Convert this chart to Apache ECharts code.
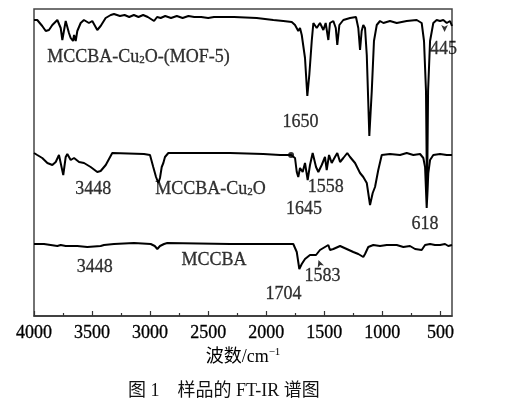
<!DOCTYPE html>
<html>
<head>
<meta charset="utf-8">
<script src="https://cdn.jsdelivr.net/npm/echarts@6/dist/echarts.min.js"></script>
<style>
  html, body { margin: 0; padding: 0; background: #fff; }
  #chart { width: 513px; height: 401px; }
</style>
</head>
<body>
<div id="chart"></div>
<script>
// wavenumber ticks (cm-1)
const majorTicks = [500, 1000, 1500, 2000, 2500, 3000, 3500, 4000]
const minorTicks = [750, 1250, 1750, 2250, 2750, 3250, 3750]

// [wavenumber, transmittance (arb. units, traces stacked)]
const mofSpectrum = [
  [4000, 296], [3972, 296], [3929, 290], [3899, 285], [3871, 286], [3842, 291], [3799, 296],
  [3770, 288], [3756, 276], [3727, 295], [3713, 296], [3699, 283], [3684, 278], [3664, 275],
  [3655, 281], [3641, 275], [3627, 285], [3598, 293], [3570, 296], [3527, 293], [3498, 295],
  [3455, 286], [3426, 290], [3383, 298], [3339, 301], [3311, 302], [3260, 300], [3220, 301],
  [3180, 299], [3140, 301], [3100, 299], [3060, 301], [3020, 299], [2966, 295], [2940, 299],
  [2909, 298], [2870, 300], [2820, 298], [2770, 300], [2720, 298], [2670, 300], [2620, 299],
  [2560, 299], [2500, 298], [2450, 299], [2400, 299], [2277, 299], [2082, 298], [1939, 296],
  [1853, 295], [1780, 294], [1752, 291], [1724, 285], [1709, 288], [1694, 281], [1666, 258],
  [1646, 220], [1629, 241], [1608, 275], [1594, 293], [1565, 288], [1537, 293], [1508, 286],
  [1488, 293], [1465, 276], [1451, 293], [1422, 295], [1401, 288], [1388, 271], [1370, 291],
  [1336, 296], [1278, 298], [1227, 299], [1207, 288], [1192, 266], [1178, 285], [1164, 291],
  [1149, 288], [1134, 261], [1112, 180], [1091, 225], [1072, 275], [1048, 291], [1020, 295],
  [991, 293], [934, 295], [876, 293], [790, 295], [704, 296], [661, 293], [641, 275],
  [624, 225], [615, 116], [606, 225], [589, 275], [561, 293], [532, 296], [503, 295],
  [475, 296], [445, 293], [417, 295], [400, 290]
]

const cu2oSpectrum = [
  [4000, 163], [3972, 161], [3929, 158], [3885, 153], [3842, 151], [3813, 154], [3785, 161],
  [3770, 163], [3748, 141], [3727, 159], [3713, 162], [3684, 156], [3655, 158], [3612, 154],
  [3569, 153], [3512, 149], [3455, 144], [3426, 145], [3382, 151], [3326, 163], [3053, 162],
  [3001, 161], [2973, 149], [2949, 139], [2929, 133], [2915, 138], [2900, 149], [2886, 153],
  [2872, 159], [2843, 163], [2312, 163], [2025, 162], [1881, 161], [1810, 161], [1786, 161],
  [1752, 158], [1737, 144], [1724, 139], [1709, 148], [1686, 144], [1666, 153], [1643, 136],
  [1623, 151], [1600, 163], [1571, 149], [1551, 144], [1522, 151], [1494, 159], [1479, 146],
  [1459, 161], [1436, 153], [1408, 159], [1388, 163], [1364, 154], [1336, 158], [1302, 163],
  [1278, 159], [1235, 153], [1192, 143], [1164, 139], [1134, 133], [1106, 111], [1083, 123],
  [1063, 129], [1035, 146], [1005, 161], [934, 162], [848, 161], [790, 163], [733, 161],
  [675, 162], [647, 158], [632, 149], [618, 108], [604, 143], [589, 156], [561, 161],
  [503, 162], [445, 161], [400, 161]
]

const mccbaSpectrum = [
  [4000, 72], [3914, 72], [3799, 70], [3770, 71], [3727, 70], [3627, 70], [3541, 69],
  [3426, 70], [3397, 71], [3311, 72], [3139, 73], [2995, 72], [2960, 70], [2938, 67],
  [2915, 70], [2880, 72], [2852, 73], [2312, 72], [2025, 72], [1767, 72], [1737, 64],
  [1715, 47], [1694, 52], [1666, 57], [1623, 61], [1571, 61], [1537, 66], [1494, 69],
  [1465, 71], [1451, 66], [1422, 67], [1364, 70], [1307, 67], [1250, 64], [1207, 62],
  [1164, 59], [1149, 62], [1121, 69], [1078, 71], [1020, 70], [962, 71], [876, 71],
  [819, 69], [762, 70], [718, 67], [661, 66], [632, 71], [589, 72], [547, 71],
  [503, 71], [460, 72], [432, 70], [400, 71]
]

// peak annotations: [text, wavenumber, y]
const peakLabels = [
  ['MCCBA-Cu{sub|2}O-(MOF-5)', 3100, 259],
  ['1650', 1705, 194],
  ['445', 473, 267],
  ['3448', 3489, 127],
  ['MCCBA-Cu{sub|2}O', 2480, 127],
  ['1558', 1487, 129],
  ['1645', 1674, 107],
  ['618', 632, 92],
  ['3448', 3477, 49],
  ['MCCBA', 2450, 56],
  ['1704', 1851, 22],
  ['1583', 1515, 40]
]
// small arrows: [wavenumber, y, rotation]
const arrowMarks = [[464, 284, 180], [1550, 56, 20]]
const dotMarks = [[1786, 161]]

const serif = 'Liberation Serif, Times New Roman, serif'
const ink = '#000'

const chart = echarts.init(document.getElementById('chart'))

function traceSeries(data) {
  return {
    type: 'line',
    data: data,
    showSymbol: false,
    symbol: 'none',
    silent: true,
    lineStyle: { color: ink, width: 2 },
    z: 2
  }
}

const option = {
  animation: false,
  title: {
    text: '图 1    样品的 FT-IR 谱图',
    left: 123,
    top: 377,
    textStyle: {
      fontFamily: 'Liberation Serif, Noto Sans CJK SC',
      fontWeight: 'normal',
      fontSize: 18,
      color: '#111'
    }
  },
  grid: {
    left: 34,
    right: 61,
    top: 9,
    bottom: 85,
    show: true,
    borderColor: '#444',
    borderWidth: 1.5
  },
  xAxis: [
    {
      type: 'value',
      min: 400,
      max: 4000,
      inverse: true,
      position: 'bottom',
      axisLine: { lineStyle: { color: '#333', width: 1.5 } },
      axisTick: {
        inside: true,
        length: 5,
        customValues: majorTicks,
        lineStyle: { color: '#333', width: 1.2 }
      },
      axisLabel: {
        customValues: majorTicks,
        formatter: v => String(v),
        fontFamily: serif,
        fontSize: 18,
        color: ink,
        textBorderColor: ink,
        textBorderWidth: 0.3,
        margin: 8
      },
      splitLine: { show: false },
      name: '波数/cm{sup|−1}',
      nameLocation: 'middle',
      nameGap: 30,
      nameTextStyle: {
        fontFamily: 'Liberation Serif, Noto Sans CJK SC',
        fontSize: 18,
        color: ink,
        rich: {
          sup: { fontFamily: serif, fontSize: 11, padding: [0, 0, 9, 0], color: ink }
        }
      }
    },
    {
      type: 'value',
      min: 400,
      max: 4000,
      inverse: true,
      position: 'bottom',
      axisLine: { show: false },
      axisTick: {
        inside: true,
        length: 3,
        customValues: minorTicks,
        lineStyle: { color: '#333', width: 1.2 }
      },
      axisLabel: { show: false },
      splitLine: { show: false }
    }
  ],
  yAxis: {
    type: 'value',
    min: 0,
    max: 307,
    show: false
  },
  series: [
    traceSeries(mofSpectrum),
    traceSeries(cu2oSpectrum),
    traceSeries(mccbaSpectrum),
    {
      type: 'scatter',
      symbolSize: 0,
      silent: true,
      data: peakLabels.map(d => ({ name: d[0], value: [d[1], d[2]] })),
      label: {
        show: true,
        position: [0, 0],
        align: 'center',
        verticalAlign: 'middle',
        formatter: p => p.name,
        fontFamily: serif,
        fontSize: 18,
        color: ink,
        textBorderColor: ink,
        textBorderWidth: 0.3,
        rich: {
          sub: { fontFamily: serif, fontSize: 11, padding: [6, 0, 0, 0], color: ink }
        }
      },
      z: 5
    },
    {
      type: 'scatter',
      symbol: 'arrow',
      symbolSize: [5, 7],
      silent: true,
      itemStyle: { color: ink },
      data: arrowMarks.map(d => ({ value: [d[0], d[1]], symbolRotate: d[2] })),
      z: 5
    },
    {
      type: 'scatter',
      symbol: 'circle',
      symbolSize: 6,
      silent: true,
      itemStyle: { color: ink },
      data: dotMarks,
      z: 5
    }
  ]
}

chart.setOption(option)
</script>
</body>
</html>
